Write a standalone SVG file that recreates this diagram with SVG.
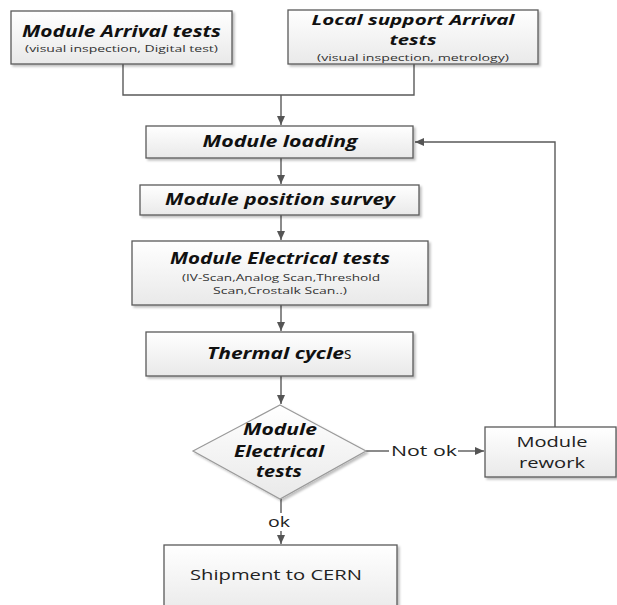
<svg xmlns="http://www.w3.org/2000/svg" width="617" height="605" viewBox="0 0 617 605">
<defs>
<linearGradient id="bg" x1="0" y1="0" x2="0" y2="1">
<stop offset="0" stop-color="#ffffff"/>
<stop offset="1" stop-color="#e9e9e9"/>
</linearGradient>
<filter id="sh" x="-5%" y="-5%" width="115%" height="130%">
<feDropShadow dx="2" dy="2" stdDeviation="1.2" flood-color="#000" flood-opacity="0.25"/>
</filter>
<marker id="ah" markerWidth="10" markerHeight="10" refX="9" refY="5" orient="auto" markerUnits="userSpaceOnUse">
<path d="M0,1 L9,5 L0,9 Z" fill="#555"/>
</marker>
</defs>
<style>
.box{fill:url(#bg);stroke:#5a5a5a;stroke-width:1.3;filter:url(#sh)}
.dia{fill:url(#bg);stroke:#9a9a9a;stroke-width:1.2;filter:url(#sh)}
.ln{fill:none;stroke:#5a5a5a;stroke-width:1.4}
.t{font-family:"Open Sans","Liberation Sans",sans-serif;font-weight:bold;font-style:italic;font-size:15.5px;fill:#111;text-anchor:middle}
.t2{font-family:"Open Sans","Liberation Sans",sans-serif;font-weight:bold;font-style:italic;font-size:14px;fill:#111;text-anchor:middle}
.s{font-family:"Open Sans","Liberation Sans",sans-serif;font-size:9.5px;fill:#333;text-anchor:middle}
.n{font-family:"Open Sans","Liberation Sans",sans-serif;font-size:14.5px;fill:#222;text-anchor:middle}
</style>
<rect width="617" height="605" fill="#fff"/>
<g id="connectors">
<polyline class="ln" points="123,64 123,95 281,95"/>
<polyline class="ln" points="414,64 414,95 281,95"/>
<line class="ln" x1="281" y1="95" x2="281" y2="125" marker-end="url(#ah)"/>
<line class="ln" x1="281" y1="158" x2="281" y2="184" marker-end="url(#ah)"/>
<line class="ln" x1="281" y1="215" x2="281" y2="240" marker-end="url(#ah)"/>
<line class="ln" x1="281" y1="305" x2="281" y2="331" marker-end="url(#ah)"/>
<line class="ln" x1="281" y1="376" x2="281" y2="404" marker-end="url(#ah)"/>
<line class="ln" x1="366" y1="451" x2="389" y2="451"/>
<line class="ln" x1="458" y1="451" x2="484" y2="451" marker-end="url(#ah)"/>
<polyline class="ln" points="555,427 555,142 415,142" marker-end="url(#ah)"/>
<line class="ln" x1="281" y1="499" x2="281" y2="513"/>
<line class="ln" x1="281" y1="531" x2="281" y2="544" marker-end="url(#ah)"/>
<text class="n" x="424" y="456" textLength="66" lengthAdjust="spacingAndGlyphs">Not ok</text>
<text class="n" x="279" y="527" textLength="22" lengthAdjust="spacingAndGlyphs">ok</text>
</g>
<g id="module-arrival">
<rect class="box" x="11" y="11" width="221" height="53"/>
<text class="t" x="121.5" y="37" textLength="199" lengthAdjust="spacingAndGlyphs">Module Arrival tests</text>
<text class="s" x="121.5" y="52" textLength="193" lengthAdjust="spacingAndGlyphs">(visual inspection, Digital test)</text>
</g>
<g id="local-support-arrival">
<rect class="box" x="288" y="10" width="250" height="54"/>
<text class="t2" x="413" y="25" textLength="203" lengthAdjust="spacingAndGlyphs">Local support Arrival</text>
<text class="t2" x="413" y="44.5" textLength="47" lengthAdjust="spacingAndGlyphs">tests</text>
<text class="s" x="413" y="61" textLength="192" lengthAdjust="spacingAndGlyphs">(visual inspection, metrology)</text>
</g>
<g id="module-loading">
<rect class="box" x="146" y="126" width="267" height="32"/>
<text class="t" x="280" y="147" textLength="155" lengthAdjust="spacingAndGlyphs">Module loading</text>
</g>
<g id="module-position-survey">
<rect class="box" x="140" y="185" width="279" height="30"/>
<text class="t" x="280" y="205" textLength="230" lengthAdjust="spacingAndGlyphs">Module position survey</text>
</g>
<g id="module-electrical-tests">
<rect class="box" x="132" y="241" width="296" height="64"/>
<text class="t" x="280" y="264" textLength="220" lengthAdjust="spacingAndGlyphs">Module Electrical tests</text>
<text class="s" x="281" y="281" textLength="198" lengthAdjust="spacingAndGlyphs">(IV-Scan,Analog Scan,Threshold</text>
<text class="s" x="280" y="294" textLength="134" lengthAdjust="spacingAndGlyphs">Scan,Crostalk Scan..)</text>
</g>
<g id="thermal-cycles">
<rect class="box" x="146" y="332" width="267" height="44"/>
<text x="207" y="359" style="font-family:'Open Sans','Liberation Sans',sans-serif;font-size:15.5px;fill:#111"><tspan font-weight="bold" font-style="italic" textLength="137" lengthAdjust="spacingAndGlyphs">Thermal cycle</tspan><tspan>s</tspan></text>
</g>
<g id="decision">
<polygon class="dia" points="280,405 366,451 280,499 193,451"/>
<text class="t" x="280" y="435" textLength="74" lengthAdjust="spacingAndGlyphs">Module</text>
<text class="t" x="279" y="457" textLength="90" lengthAdjust="spacingAndGlyphs">Electrical</text>
<text class="t" x="279" y="477" textLength="46" lengthAdjust="spacingAndGlyphs">tests</text>
</g>
<g id="module-rework">
<rect class="box" x="485" y="427" width="131" height="50"/>
<text class="n" x="552" y="447" textLength="71" lengthAdjust="spacingAndGlyphs">Module</text>
<text class="n" x="552" y="468" textLength="66" lengthAdjust="spacingAndGlyphs">rework</text>
</g>
<g id="shipment">
<rect class="box" x="164" y="545" width="233" height="70"/>
<text class="n" x="276" y="580" textLength="172" lengthAdjust="spacingAndGlyphs">Shipment to CERN</text>
</g>
</svg>
